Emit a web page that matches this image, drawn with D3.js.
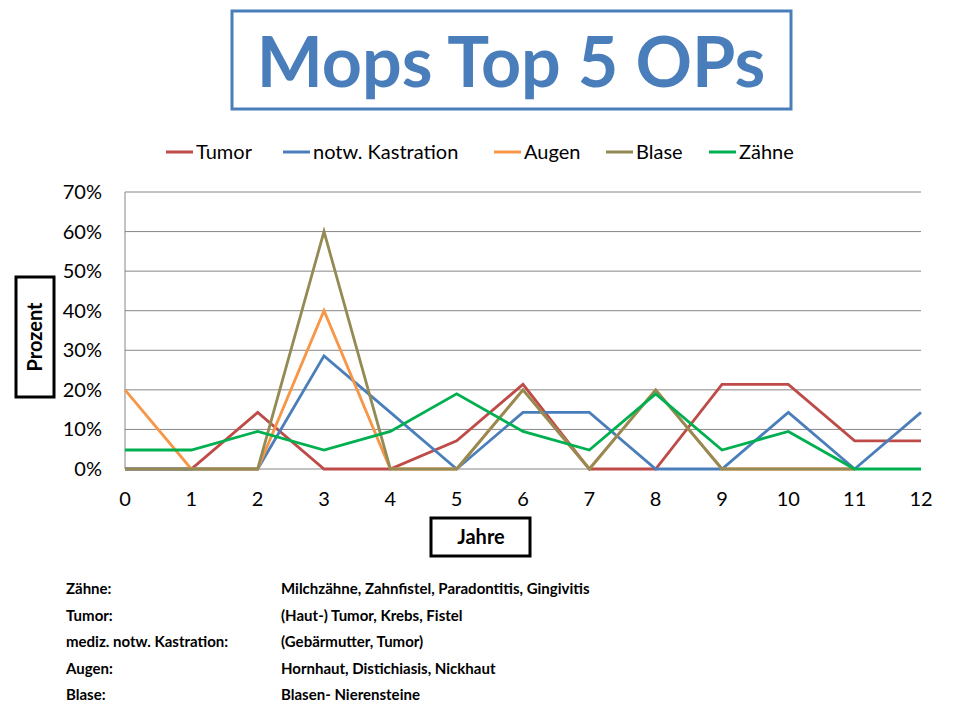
<!DOCTYPE html><html><head><meta charset="utf-8">
<script src="https://cdn.jsdelivr.net/npm/d3@7"></script>
<style>body{margin:0;background:#fff}</style></head><body>
<svg id="c" width="960" height="720"></svg>
<script>
const years=[0,1,2,3,4,5,6,7,8,9,10,11,12];
const yTicks=[0,10,20,30,40,50,60,70];
const tumor=[0,0,14.3,0,0,7.1,21.4,0,0,21.4,21.4,7.1,7.1];
const kastration=[0,0,0,28.6,14.3,0,14.3,14.3,0,0,14.3,0,14.3];
const augen=[20,0,0,40,0,0,20,0,20,0,0,0,null];
const blase=[0,0,0,60,0,0,20,0,20,0,0,0,null];
const zaehne=[4.8,4.8,9.5,4.8,9.5,19,9.5,4.8,19,4.8,9.5,0,0];
const seriesNames=["Tumor","notw. Kastration","Augen","Blase","Zähne"];
const seriesData=[tumor,kastration,augen,blase,zaehne];
const colors=["#be4b48","#4a7ebb","#f79646","#948a54","#00b050"];
const notes=[["Zähne:","Milchzähne, Zahnfistel, Paradontitis, Gingivitis"],["Tumor:","(Haut-) Tumor, Krebs, Fistel"],["mediz. notw. Kastration:","(Gebärmutter, Tumor)"],["Augen:","Hornhaut, Distichiasis, Nickhaut"],["Blase:","Blasen- Nierensteine"]];
const F="Lato, 'Open Sans', sans-serif";
const svg=d3.select("#c").style("font-family",F);
svg.append("rect").attr("x",232).attr("y",11).attr("width",559).attr("height",98).attr("fill","none").attr("stroke","#4a7ebb").attr("stroke-width",3);
svg.append("text").attr("x",511).attr("y",87).attr("text-anchor","middle").attr("font-size",70).attr("font-weight","bold").attr("fill","#4a7ebb").text("Mops Top 5 OPs");
const x=d3.scaleLinear().domain([0,12]).range([125,921]);
const y=d3.scaleLinear().domain([0,70]).range([469,192]);
const g=svg.append("g");
g.selectAll("line.gr").data(yTicks).join("line").attr("x1",125).attr("x2",921).attr("y1",d=>y(d)).attr("y2",d=>y(d)).attr("stroke","#868686").attr("stroke-width",1);
g.append("line").attr("x1",125).attr("x2",125).attr("y1",y(0)).attr("y2",y(70)).attr("stroke","#868686");
g.selectAll("text.yt").data(yTicks).join("text").attr("x",102).attr("y",d=>y(d)+7).attr("text-anchor","end").attr("font-size",20).text(d=>d+"%");
g.selectAll("text.xt").data(years).join("text").attr("x",d=>x(d)).attr("y",506).attr("text-anchor","middle").attr("font-size",20).text(d=>d);
const line=d3.line().defined(d=>d!=null).x((d,i)=>x(years[i])).y(d=>y(d));
seriesData.forEach((s,i)=>g.append("path").attr("d",line(s)).attr("fill","none").attr("stroke",colors[i]).attr("stroke-width",2.8));
// legend
const lx=[166,283,494,606,709];
seriesNames.forEach((n,i)=>{svg.append("line").attr("x1",lx[i]).attr("x2",lx[i]+27).attr("y1",152).attr("y2",152).attr("stroke",colors[i]).attr("stroke-width",3);
svg.append("text").attr("x",lx[i]+30).attr("y",159).attr("font-size",20).text(n);});
// axis title boxes
svg.append("rect").attr("x",16).attr("y",277).attr("width",38).attr("height",120).attr("fill","none").attr("stroke","#000").attr("stroke-width",3);
svg.append("text").attr("transform","translate(42,337) rotate(-90)").attr("text-anchor","middle").attr("font-size",20).attr("font-weight","bold").text("Prozent");
svg.append("rect").attr("x",431).attr("y",518).attr("width",99).attr("height",38).attr("fill","none").attr("stroke","#000").attr("stroke-width",3);
svg.append("text").attr("x",481).attr("y",544).attr("text-anchor","middle").attr("font-size",20).attr("font-weight","bold").text("Jahre");
notes.forEach((n,i)=>{const yy=594+i*26.5;
svg.append("text").attr("x",66).attr("y",yy).attr("font-size",15).attr("font-weight","bold").text(n[0]);
svg.append("text").attr("x",281).attr("y",yy).attr("font-size",15).attr("font-weight","bold").text(n[1]);});
</script></body></html>
